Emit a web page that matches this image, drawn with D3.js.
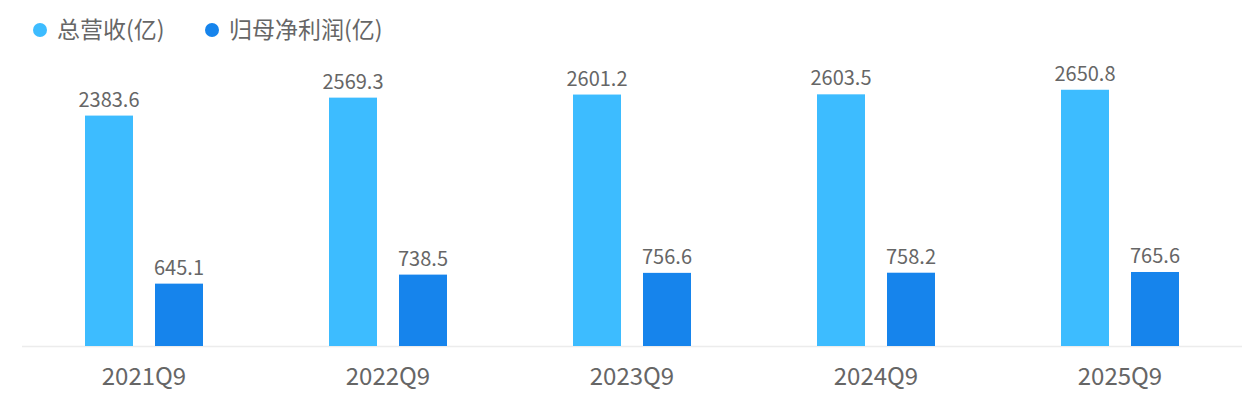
<!DOCTYPE html>
<meta charset="utf-8">
<title>总营收与归母净利润</title>
<style>
    body {
        margin: 0;
        background: #fff;
        font-family: "Noto Sans CJK SC", "Noto Sans", sans-serif;
    }

    svg {
        display: block;
    }

    text {
        fill: #666;
    }
</style>

<body>
    <svg width="1252" height="402"></svg>

    <script src="https://d3js.org/d3.v7.min.js"></script>
    <script>
        const periods = ["2021Q9", "2022Q9", "2023Q9", "2024Q9", "2025Q9"];
        const revenue = [2383.6, 2569.3, 2601.2, 2603.5, 2650.8];
        const netProfit = [645.1, 738.5, 756.6, 758.2, 765.6];
        const seriesNames = ["总营收(亿)", "归母净利润(亿)"];
        const colors = ["#3dbcff", "#1684ec"];

        const svg = d3.select("svg");
        const baseY = 346;

        const x = d3.scaleBand()
            .domain(periods)
            .range([22, 1242]);

        // two bars per group, 48 wide with a 22px gap
        const inner = d3.scaleBand()
            .domain([0, 1])
            .range([63, 181])
            .paddingInner(22 / 70);

        const y = d3.scaleLinear()
            .domain([0, 3000])
            .range([baseY, 56]);

        const rows = periods.map((p, i) => ({ period: p, values: [revenue[i], netProfit[i]] }));

        // baseline
        svg.append("line")
            .attr("x1", 22).attr("x2", 1242)
            .attr("y1", baseY + 0.5).attr("y2", baseY + 0.5)
            .attr("stroke", "#ececec")
            .attr("stroke-width", 1.5);

        const groups = svg.append("g")
            .selectAll("g")
            .data(rows)
            .join("g")
            .attr("transform", d => `translate(${x(d.period)},0)`);

        groups.selectAll("rect")
            .data(d => d.values.map((v, k) => ({ v, k })))
            .join("rect")
            .attr("x", d => inner(d.k))
            .attr("width", inner.bandwidth())
            .attr("y", d => y(d.v))
            .attr("height", d => baseY - y(d.v))
            .attr("fill", d => colors[d.k]);

        groups.selectAll("text.val")
            .data(d => d.values.map((v, k) => ({ v, k })))
            .join("text")
            .attr("class", "val")
            .attr("x", d => inner(d.k) + inner.bandwidth() / 2)
            .attr("y", d => y(d.v) - 9)
            .attr("text-anchor", "middle")
            .style("font-size", "20px")
            .text(d => d.v.toFixed(1));

        // x axis labels
        svg.append("g")
            .selectAll("text")
            .data(periods)
            .join("text")
            .attr("x", d => x(d) + x.bandwidth() / 2)
            .attr("y", 385)
            .attr("text-anchor", "middle")
            .style("font-size", "24px")
            .text(d => d);

        // legend
        const legendX = [40, 212];
        const legend = svg.append("g")
            .selectAll("g")
            .data(seriesNames)
            .join("g")
            .attr("transform", (d, i) => `translate(${legendX[i]},30)`);

        legend.append("circle")
            .attr("r", 7)
            .attr("fill", (d, i) => colors[i]);

        legend.append("text")
            .attr("x", 17)
            .attr("y", 8)
            .style("font-size", "23px")
            .text(d => d);
    </script>
</body>

</html>
